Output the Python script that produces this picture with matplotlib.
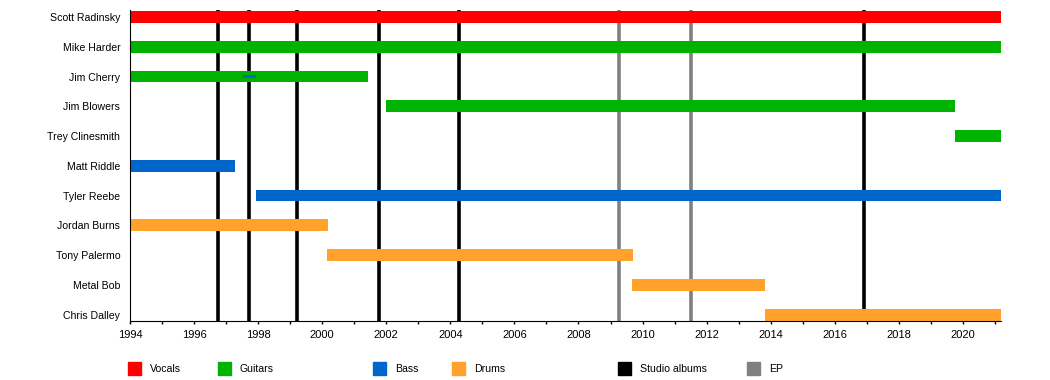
import matplotlib
matplotlib.use("Agg")
import matplotlib.pyplot as plt
from matplotlib.patches import Rectangle

plt.rcParams['font.family'] = ['Liberation Sans', 'DejaVu Sans']

# band members, top to bottom
members = ["Scott Radinsky", "Mike Harder", "Jim Cherry", "Jim Blowers",
           "Trey Clinesmith", "Matt Riddle", "Tyler Reebe", "Jordan Burns",
           "Tony Palermo", "Metal Bob", "Chris Dalley"]

END = 2021.19
# (member, role, start, end)
spans = [
    ("Scott Radinsky", "Vocals", 1994.0, END),
    ("Mike Harder", "Guitars", 1994.0, END),
    ("Jim Cherry", "Guitars", 1994.0, 2001.44),
    ("Jim Blowers", "Guitars", 2002.0, 2019.74),
    ("Trey Clinesmith", "Guitars", 2019.74, END),
    ("Matt Riddle", "Bass", 1994.0, 1997.29),
    ("Tyler Reebe", "Bass", 1997.92, END),
    ("Jordan Burns", "Drums", 1994.0, 2000.17),
    ("Tony Palermo", "Drums", 2000.14, 2009.69),
    ("Metal Bob", "Drums", 2009.67, 2013.83),
    ("Chris Dalley", "Drums", 2013.83, END),
]
# short secondary role shown as a thin bar
thin_spans = [("Jim Cherry", "Bass", 1997.52, 1997.94)]

studio_albums = [1996.74, 1997.73, 1999.21, 2001.77, 2004.27, 2016.92]
eps = [2009.27, 2011.52]

colors = {"Vocals": "#ff0000", "Guitars": "#00b300", "Bass": "#0066cc",
          "Drums": "#ffa12a", "Studio albums": "#000000", "EP": "#808080"}

fig = plt.figure(figsize=(10.5, 3.8), dpi=100)
ax = fig.add_axes([130/1050, 1 - 320.5/380, (1001 - 130)/1050, (320.5 - 10)/380])

for x in studio_albums:
    ax.axvline(x, color=colors["Studio albums"], lw=2.6, zorder=1)
for x in eps:
    ax.axvline(x, color=colors["EP"], lw=2.6, zorder=1)

ypos = {m: i for i, m in enumerate(members)}
for m, role, s, e in spans:
    ax.barh(ypos[m], e - s, left=s, height=0.4, color=colors[role], zorder=2)
for m, role, s, e in thin_spans:
    ax.barh(ypos[m], e - s, left=s, height=0.12, color=colors[role], zorder=3)

ax.set_xlim(1994, END)
ax.set_ylim(10.2, -0.235)
ax.set_yticks(range(len(members)))
ax.set_yticklabels(members, fontsize=7.6)
ax.tick_params(axis='y', length=0, pad=7)
ax.set_xticks(range(1994, 2021, 2))
ax.set_xticks(range(1994, 2022), minor=True)
ax.tick_params(axis='x', which='both', length=2.3, width=1, labelsize=8, pad=4.5)
for side in ("top", "right"):
    ax.spines[side].set_visible(False)

# legend row along the bottom
legend = [("Vocals", 128), ("Guitars", 218), ("Bass", 373), ("Drums", 452),
          ("Studio albums", 618), ("EP", 747)]
for name, px in legend:
    fig.patches.append(Rectangle((px/1050, 1 - 375/380), 13/1050, 13/380,
                                 transform=fig.transFigure, color=colors[name]))
    fig.text((px + 22)/1050, 1 - 369/380, name, fontsize=7.6, va='center', ha='left')

fig.savefig("out.png", dpi=100)
